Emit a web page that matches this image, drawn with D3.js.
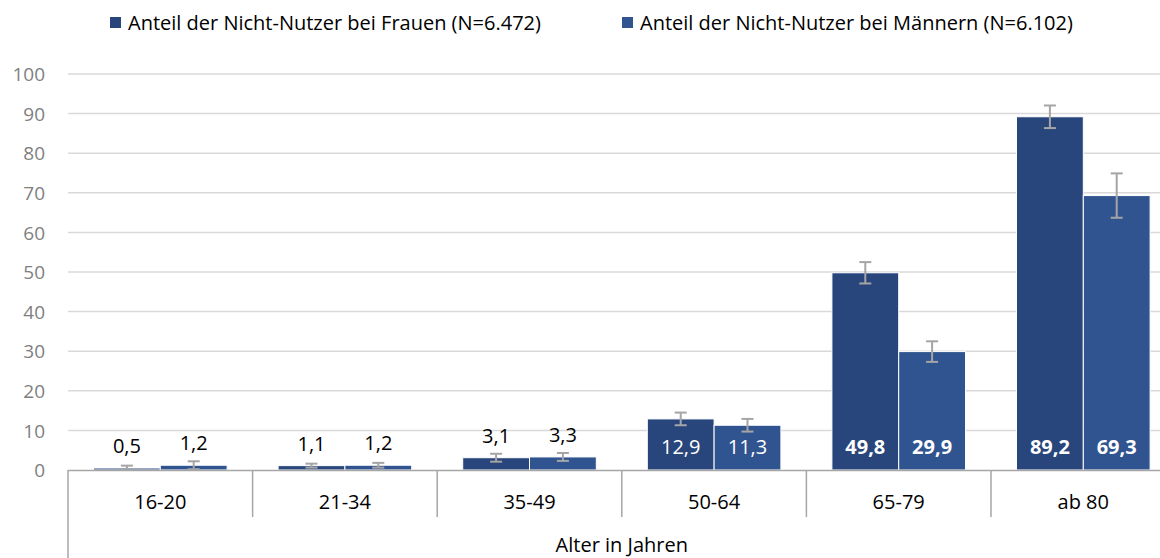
<!DOCTYPE html>
<html><head><meta charset="utf-8">
<script src="https://cdn.jsdelivr.net/npm/d3@7"></script>
<style>html,body{margin:0;padding:0;background:#fff;overflow:hidden}svg{display:block;font-family:"Open Sans",sans-serif}</style>
</head><body><svg id="c" width="1160" height="558"></svg>
<script>
const categories = ["16-20","21-34","35-49","50-64","65-79","ab 80"];
const seriesNames = ["Anteil der Nicht-Nutzer bei Frauen (N=6.472)","Anteil der Nicht-Nutzer bei Männern (N=6.102)"];
const frauen = [0.5,1.1,3.1,12.9,49.8,89.2];
const maenner = [1.2,1.2,3.3,11.3,29.9,69.3];
const frauenErr = [0.6,0.5,1.0,1.6,2.7,2.85];
const maennerErr = [1.0,0.6,1.0,1.6,2.6,5.6];
const yTicks = [0,10,20,30,40,50,60,70,80,90,100];
const axisTitle = "Alter in Jahren";
const colors = ["#28467B","#30548F"];

const svg = d3.select("#c");
const x0 = 68, step = 184.6;
const x = d3.scaleBand().domain(categories).range([x0, x0 + step*categories.length]).padding(0);
const xi = d3.scaleBand().domain([0,1]).range([25.5, step-25.5]).padding(0);
const y = d3.scaleLinear().domain([0,100]).range([470,74]);

// gridlines
svg.append("g").selectAll("line").data(yTicks.filter(t=>t>0)).join("line")
  .attr("x1", x0).attr("x2", 1160).attr("y1", d=>y(d)).attr("y2", d=>y(d))
  .attr("stroke","#D9D9D9").attr("stroke-width",1.5);

// y labels
const yAxis = d3.axisLeft(y).tickValues(yTicks).tickSize(0).tickPadding(0);
const gy = svg.append("g").attr("transform","translate(45,0)").call(yAxis);
gy.select(".domain").remove();
gy.selectAll("text").attr("font-size",19).attr("fill","#7F7F7F").attr("font-family","Open Sans, sans-serif").attr("dy","0.35em");

const data = [];
categories.forEach((c,i)=>{
  data.push({c, s:0, v:frauen[i], e:frauenErr[i]});
  data.push({c, s:1, v:maenner[i], e:maennerErr[i]});
});

// bars
svg.append("g").selectAll("rect").data(data).join("rect")
  .attr("x", d=>x(d.c)+xi(d.s)).attr("width", xi.bandwidth())
  .attr("y", d=>y(d.v)).attr("height", d=>y(0)-y(d.v))
  .attr("fill", d=>colors[d.s]).attr("stroke","#fff").attr("stroke-width",1);

// error bars
const eg = svg.append("g").attr("stroke","#A5A5A5").attr("stroke-width",2).attr("fill","none");
data.forEach(d=>{
  const cx = x(d.c)+xi(d.s)+xi.bandwidth()/2;
  const top = y(d.v+d.e), bot = y(Math.max(0,d.v-d.e));
  eg.append("line").attr("x1",cx).attr("x2",cx).attr("y1",top).attr("y2",bot);
  eg.append("line").attr("x1",cx-6).attr("x2",cx+6).attr("y1",top).attr("y2",top);
  eg.append("line").attr("x1",cx-6).attr("x2",cx+6).attr("y1",bot).attr("y2",bot);
});

// data labels
const fmt = v => d3.format(".1f")(v).replace(".",",");
svg.append("g").selectAll("text").data(data).join("text")
  .attr("x", d=>x(d.c)+xi(d.s)+xi.bandwidth()/2)
  .attr("y", d=> d.v < 10 ? y(d.v)-15 : 454)
  .attr("text-anchor","middle").attr("font-size",20)
  .attr("font-weight", d=> d.v > 20 ? 700 : 400)
  .attr("fill", d=> d.v < 10 ? "#000" : "#fff")
  .text(d=>fmt(d.v));

// x axis line
svg.append("line").attr("x1",x0).attr("x2",1160).attr("y1",470.5).attr("y2",470.5).attr("stroke","#A6A6A6").attr("stroke-width",1.5);
// separators
svg.append("g").selectAll("line").data(categories).join("line")
  .attr("x1", d=>x(d)).attr("x2", d=>x(d))
  .attr("y1", 470).attr("y2", (d,i)=> i===0 ? 558 : 517)
  .attr("stroke","#A6A6A6").attr("stroke-width",1.5);
// category labels
svg.append("g").selectAll("text").data(categories).join("text")
  .attr("x", d=>x(d)+x.bandwidth()/2).attr("y", 509)
  .attr("text-anchor","middle").attr("font-size",20).attr("fill","#000").text(d=>d);
svg.append("text").attr("x", x0 + step*3).attr("y", 552).attr("text-anchor","middle")
  .attr("font-size",20).attr("fill","#000").text(axisTitle);

// legend
const legX = [110, 622];
const lg = svg.append("g").selectAll("g").data(seriesNames).join("g")
  .attr("transform",(d,i)=>`translate(${legX[i]},0)`);
lg.append("rect").attr("x",0).attr("y",17).attr("width",11).attr("height",11).attr("fill",(d,i)=>colors[i]);
lg.append("text").attr("x",18).attr("y",30).attr("font-size",20).attr("fill","#000").text(d=>d);
</script></body></html>
